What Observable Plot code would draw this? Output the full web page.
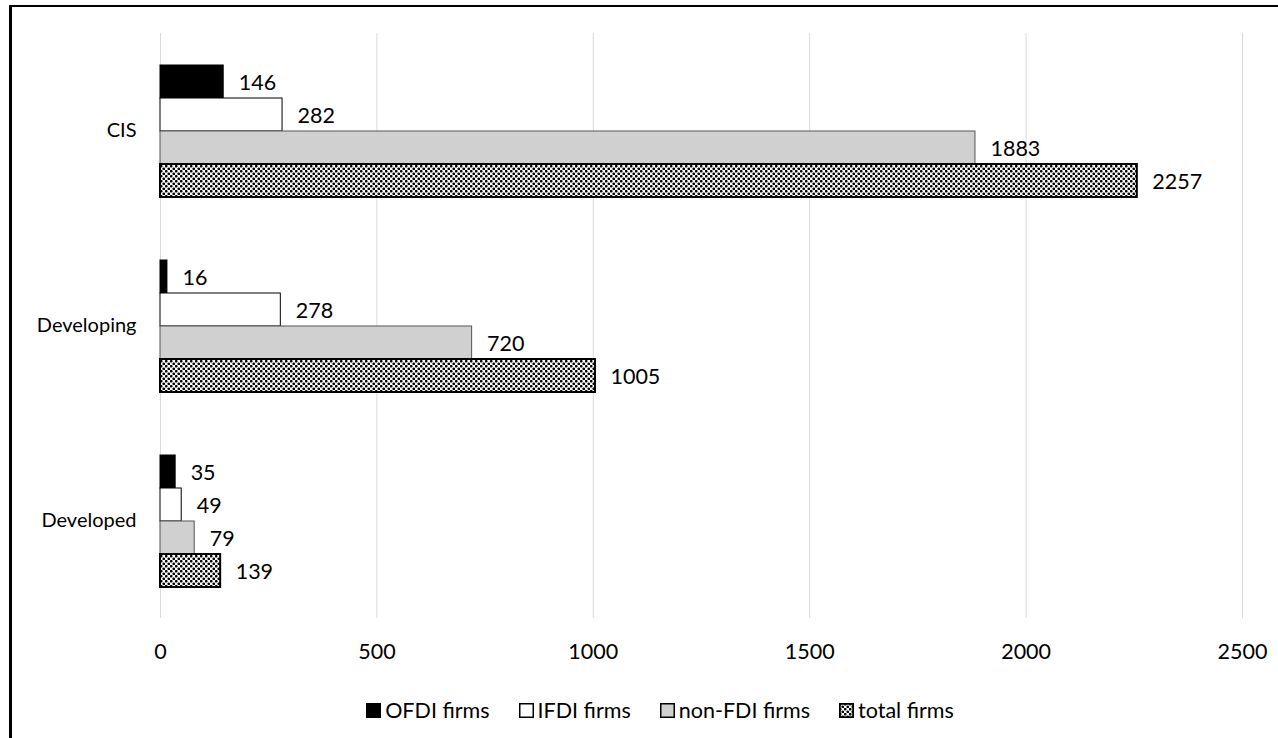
<!DOCTYPE html>
<html>
<head>
<meta charset="utf-8">
<script src="https://cdn.jsdelivr.net/npm/d3@7"></script>
<script src="https://cdn.jsdelivr.net/npm/@observablehq/plot@0.6"></script>
<style>
  html, body { margin: 0; padding: 0; background: #fff; overflow: hidden; }
  #wrap { position: relative; width: 1278px; height: 738px; font-family: Lato, "Open Sans", sans-serif; color: #000; }
  #frame { position: absolute; left: 9px; top: 5px; width: 1400px; height: 900px; border-top: 2px solid #000; border-left: 3px solid #000; pointer-events: none; }
  #chart { position: absolute; left: 0; top: 0; }
  #legend { position: absolute; top: 697px; left: 0; width: 1320px; display: flex; justify-content: center; gap: 29px; font-size: 21.5px; line-height: 26px; }
  #legend .item { display: flex; align-items: center; gap: 4px; white-space: nowrap; }
  #legend svg { display: block; }
</style>
</head>
<body>
<svg width="0" height="0" style="position:absolute">
  <defs>
    <pattern id="dots" patternUnits="userSpaceOnUse" width="5" height="5">
      <rect width="5" height="5" fill="#fff"></rect>
      <circle cx="1.25" cy="1.25" r="1.35" fill="#000"></circle>
      <circle cx="3.75" cy="3.75" r="1.35" fill="#000"></circle>
    </pattern>
  </defs>
</svg>
<div id="wrap">
  <div id="chart"></div>
  <div id="legend"></div>
  <div id="frame"></div>
</div>
<script>
const categories = ["CIS", "Developing", "Developed"];
const seriesNames = ["OFDI firms", "IFDI firms", "non-FDI firms", "total firms"];
const ofdiFirms = [146, 16, 35];
const ifdiFirms = [282, 278, 49];
const nonFdiFirms = [1883, 720, 79];
const totalFirms = [2257, 1005, 139];
const xTicks = [0, 500, 1000, 1500, 2000, 2500];
const seriesFills = ["#000000", "#ffffff", "#d0d0d0", "url(#dots)"];

const seriesValues = [ofdiFirms, ifdiFirms, nonFdiFirms, totalFirms];
const rows = [];
categories.forEach((c, i) => {
  seriesNames.forEach((s, j) => {
    rows.push({category: c, series: s, value: seriesValues[j][i]});
  });
});

const chart = Plot.plot({
  width: 1278,
  height: 680,
  marginLeft: 160,
  marginRight: 36,
  marginTop: 33,
  marginBottom: 62,
  style: {fontFamily: "Lato, 'Open Sans', sans-serif", fontSize: "20px", color: "#000", background: "transparent"},
  x: {domain: [0, 2500], axis: null},
  y: {domain: seriesNames, axis: null, paddingInner: 0, paddingOuter: 0.91},
  fy: {domain: categories, padding: 0, axis: null},
  color: {domain: seriesNames, range: seriesFills},
  marks: [
    Plot.ruleX(xTicks, {x: d => d, stroke: "#d9d9d9", strokeWidth: 1}),
    Plot.barX(rows, {
      x: "value", y: "series", fy: "category",
      fill: "series",
      stroke: d => d.series === "non-FDI firms" ? "#555" : "#000",
      strokeWidth: d => d.series === "total firms" ? 2 : 1
    }),
    Plot.text(rows, {
      x: "value", y: "series", fy: "category",
      text: d => String(d.value),
      textAnchor: "start", dx: 15, dy: 1, fontSize: 21.5, fill: "#000"
    }),
    Plot.axisX({ticks: xTicks, tickSize: 0, tickPadding: 25, fontSize: 21.5, label: null, tickFormat: d => String(d)}),
    Plot.axisFy({anchor: "left", tickSize: 0, tickPadding: 24, fontSize: 20, label: null})
  ]
});
document.getElementById("chart").appendChild(chart);

const legend = document.getElementById("legend");
seriesNames.forEach((s, j) => {
  const item = document.createElement("div");
  item.className = "item";
  const sw = document.createElementNS("http://www.w3.org/2000/svg", "svg");
  sw.setAttribute("width", "15");
  sw.setAttribute("height", "15");
  const r = document.createElementNS("http://www.w3.org/2000/svg", "rect");
  r.setAttribute("x", "0.75"); r.setAttribute("y", "0.75");
  r.setAttribute("width", "13.5"); r.setAttribute("height", "13.5");
  r.setAttribute("fill", seriesFills[j]);
  r.setAttribute("stroke", "#000");
  r.setAttribute("stroke-width", j === 3 ? "2" : "1.5");
  sw.appendChild(r);
  item.appendChild(sw);
  const t = document.createElement("span");
  t.textContent = s;
  item.appendChild(t);
  legend.appendChild(item);
});
</script>
</body>
</html>
